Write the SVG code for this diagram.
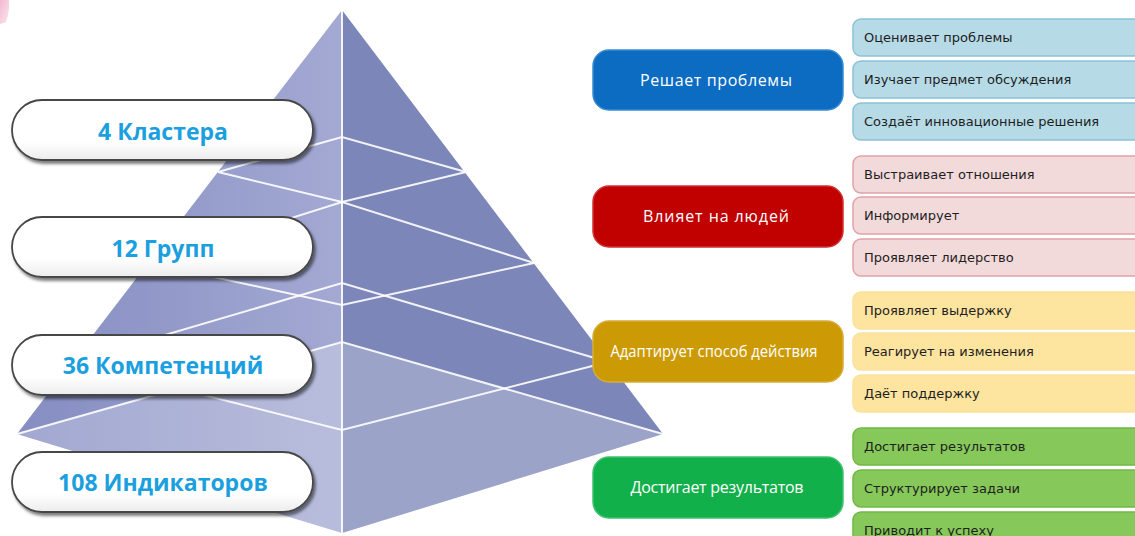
<svg xmlns="http://www.w3.org/2000/svg" width="1135" height="536" viewBox="0 0 1135 536">
  <defs>
    <linearGradient id="leftFace" gradientUnits="userSpaceOnUse" x1="17" y1="0" x2="342" y2="0">
      <stop offset="0" stop-color="#858dc2"/>
      <stop offset="1" stop-color="#a3a9d2"/>
    </linearGradient>
    <linearGradient id="pillFill" x1="0" y1="0" x2="0" y2="1">
      <stop offset="0" stop-color="#ffffff"/>
      <stop offset="0.7" stop-color="#ffffff"/>
      <stop offset="1" stop-color="#ececec"/>
    </linearGradient>
    <linearGradient id="pinkBlob" x1="0" y1="0" x2="1" y2="1">
      <stop offset="0" stop-color="#f3b9cf"/>
      <stop offset="1" stop-color="#fbe6ee"/>
    </linearGradient>
    <filter id="pillShadow" x="-10%" y="-20%" width="125%" height="160%">
      <feDropShadow dx="2" dy="3" stdDeviation="1.5" flood-color="#000" flood-opacity="0.5"/>
    </filter>
  </defs>
  <style>
    .pline { stroke: #ffffff; stroke-width: 2; stroke-opacity: 0.9; fill: none; }
    .pill { fill: url(#pillFill); stroke: #474747; stroke-width: 1.8; filter: url(#pillShadow); }
    .pilltxt { font-family: "Open Sans", "Noto Sans", sans-serif; font-weight: bold; font-size: 23px; fill: #1b9fdf; text-anchor: middle; }
    .cat { stroke-width: 1.5; }
    .cattxt { font-family: "Open Sans", "Noto Sans", sans-serif; font-size: 16px; fill: #ffffff; text-anchor: middle; }
    .sub { stroke-width: 1.5; }
    .subtxt { font-family: "DejaVu Sans", "Liberation Sans", sans-serif; font-size: 13px; fill: #1e1e1e; }
    .blue-c { fill: #0b6cc2; stroke: #3a8ad0; }
    .red-c { fill: #c10000; stroke: #d23030; }
    .yel-c { fill: #cc9a05; stroke: #d8ac3a; }
    .grn-c { fill: #12b04b; stroke: #40c070; }
    .blue-s { fill: #b6dbe7; stroke: #8dc1d7; }
    .red-s { fill: #f2dada; stroke: #e3a1a7; }
    .yel-s { fill: #fde49f; stroke: #fbe0a0; }
    .grn-s { fill: #86c85a; stroke: #72b845; }
  </style>

  <rect x="0" y="0" width="1135" height="536" fill="#ffffff"/>
  <path d="M0,0 L9,0 Q10,10 6,22 L0,24 Z" fill="url(#pinkBlob)"/>

  <g id="pyramid">
    <polygon points="342,10 17,434 342,533" fill="url(#leftFace)"/>
    <polygon points="342,10 342,533 663,434" fill="#7c86b9"/>
    <polygon points="17,434 342,342 663,434 342,533" fill="#ffffff" fill-opacity="0.24"/>
    <g id="pyramid-lines">
      <line class="pline" x1="342" y1="10" x2="342" y2="533"/>
      <polyline class="pline" points="218,172 342,137 466,172"/>
      <polyline class="pline" points="218,172 342,202 466,172"/>
      <polyline class="pline" points="149,263 342,202 534,263"/>
      <polyline class="pline" points="149,263 342,305 534,263"/>
      <polyline class="pline" points="73,362 342,283 608,362"/>
      <polyline class="pline" points="73,362 342,430 608,362"/>
      <polyline class="pline" points="17,434 342,342 663,434"/>
    </g>
  </g>

  <g id="level-clusters">
    <rect class="pill" x="12" y="100" width="301" height="60" rx="30"/>
    <text class="pilltxt" x="163" y="140">4 Кластера</text>
  </g>
  <g id="level-groups">
    <rect class="pill" x="12" y="217" width="301" height="60" rx="30"/>
    <text class="pilltxt" x="163" y="257">12 Групп</text>
  </g>
  <g id="level-competencies">
    <rect class="pill" x="12" y="335" width="301" height="60" rx="30"/>
    <text class="pilltxt" x="163" y="374">36 Компетенций</text>
  </g>
  <g id="level-indicators">
    <rect class="pill" x="12" y="452" width="301" height="60" rx="30"/>
    <text class="pilltxt" x="163" y="491">108 Индикаторов</text>
  </g>

  <g id="cluster-solves">
    <rect class="cat blue-c" x="593" y="50" width="250" height="60" rx="16"/>
    <text class="cattxt" x="716" y="86" textLength="152">Решает проблемы</text>
  </g>
  <g id="cluster-influences">
    <rect class="cat red-c" x="593" y="186" width="250" height="61" rx="16"/>
    <text class="cattxt" x="716" y="222" textLength="146">Влияет на людей</text>
  </g>
  <g id="cluster-adapts">
    <rect class="cat yel-c" x="593" y="321" width="250" height="61" rx="16"/>
    <text class="cattxt" x="714" y="357" textLength="207" lengthAdjust="spacingAndGlyphs">Адаптирует способ действия</text>
  </g>
  <g id="cluster-achieves">
    <rect class="cat grn-c" x="593" y="457" width="250" height="61" rx="16"/>
    <text class="cattxt" x="717" y="493" textLength="173">Достигает результатов</text>
  </g>

  <g id="sub-solves-1"><rect class="sub blue-s" x="853" y="19" width="290" height="37" rx="8"/><text class="subtxt" x="864" y="42">Оценивает проблемы</text></g>
  <g id="sub-solves-2"><rect class="sub blue-s" x="853" y="61" width="290" height="37" rx="8"/><text class="subtxt" x="864" y="84">Изучает предмет обсуждения</text></g>
  <g id="sub-solves-3"><rect class="sub blue-s" x="853" y="103" width="290" height="37" rx="8"/><text class="subtxt" x="864" y="126">Создаёт инновационные решения</text></g>

  <g id="sub-influences-1"><rect class="sub red-s" x="853" y="156" width="290" height="37" rx="8"/><text class="subtxt" x="864" y="179">Выстраивает отношения</text></g>
  <g id="sub-influences-2"><rect class="sub red-s" x="853" y="197" width="290" height="37" rx="8"/><text class="subtxt" x="864" y="220">Информирует</text></g>
  <g id="sub-influences-3"><rect class="sub red-s" x="853" y="239" width="290" height="37" rx="8"/><text class="subtxt" x="864" y="262">Проявляет лидерство</text></g>

  <g id="sub-adapts-1"><rect class="sub yel-s" x="853" y="292" width="290" height="37" rx="8"/><text class="subtxt" x="864" y="315">Проявляет выдержку</text></g>
  <g id="sub-adapts-2"><rect class="sub yel-s" x="853" y="333" width="290" height="37" rx="8"/><text class="subtxt" x="864" y="356">Реагирует на изменения</text></g>
  <g id="sub-adapts-3"><rect class="sub yel-s" x="853" y="375" width="290" height="37" rx="8"/><text class="subtxt" x="864" y="398">Даёт поддержку</text></g>

  <g id="sub-achieves-1"><rect class="sub grn-s" x="853" y="428" width="290" height="37" rx="8"/><text class="subtxt" x="864" y="451">Достигает результатов</text></g>
  <g id="sub-achieves-2"><rect class="sub grn-s" x="853" y="470" width="290" height="37" rx="8"/><text class="subtxt" x="864" y="493">Структурирует задачи</text></g>
  <g id="sub-achieves-3"><rect class="sub grn-s" x="853" y="512" width="290" height="37" rx="8"/><text class="subtxt" x="864" y="535">Приводит к успеху</text></g>

  <g id="connectors"></g>
</svg>
